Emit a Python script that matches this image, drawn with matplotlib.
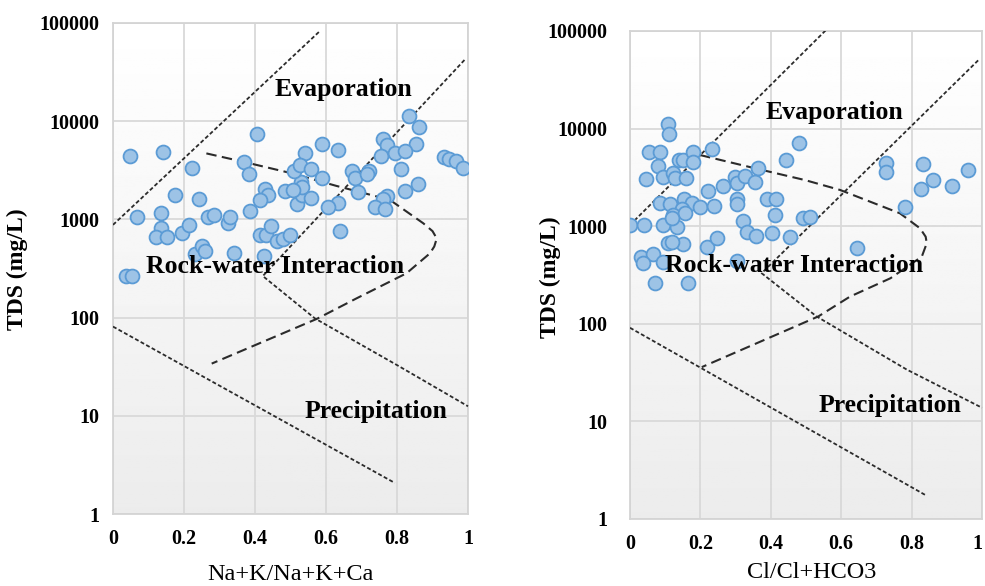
import matplotlib
matplotlib.use('Agg')
import matplotlib.pyplot as plt
import numpy as np

plt.rcParams['font.family'] = ['Liberation Serif', 'DejaVu Serif']

# ---- scatter data ----
# left panel: Na+K/(Na+K+Ca) vs TDS
cat_x = [0.049, 0.141, 0.223, 0.369, 0.383, 0.406, 0.175, 0.241, 0.068, 0.136,
         0.136, 0.122, 0.153, 0.195, 0.214, 0.268, 0.285, 0.324, 0.330, 0.385,
         0.230, 0.252, 0.258, 0.341, 0.424, 0.036, 0.054, 0.413, 0.432, 0.444,
         0.462, 0.427, 0.437, 0.413, 0.484, 0.480, 0.499, 0.517, 0.531, 0.529,
         0.511, 0.835, 0.861, 0.590, 0.635, 0.540, 0.761, 0.771, 0.854, 0.754,
         0.794, 0.823, 0.932, 0.947, 0.965, 0.987, 0.527, 0.557, 0.590, 0.672,
         0.682, 0.722, 0.715, 0.810, 0.532, 0.557, 0.860, 0.823, 0.689, 0.635,
         0.607, 0.771, 0.761, 0.739, 0.766, 0.639, 0.508]
cat_tds = [4420, 4820, 3340, 3810, 2900, 7350, 1760, 1610, 1066, 1170,
           811, 667, 667, 733, 877, 1050, 1110, 912, 1066, 1227,
           444, 536, 476, 458, 424, 267, 267, 693, 693, 862,
           607, 2028, 1775, 1577, 1933, 630, 693, 1435, 1775, 2420,
           3110, 11380, 8790, 5820, 5090, 4710, 6540, 5730, 5860, 4420,
           4790, 5010, 4290, 4090, 3940, 3310, 3580, 3240, 2660, 3110,
           2620, 3110, 2900, 3240, 2120, 1640, 2290, 1945, 1915, 1460,
           1346, 1730, 1600, 1346, 1268, 767, 1993]

# right panel: Cl/(Cl+HCO3) vs TDS
an_x = [0.109, 0.112, 0.055, 0.085, 0.080, 0.140, 0.151, 0.180, 0.232, 0.178,
        0.045, 0.095, 0.123, 0.128, 0.159, 0.085, 0.114, 0.154, 0.175, 0.199,
        0.149, 0.122, 0.156, 0.222, 0.265, 0.298, 0.303, 0.327, 0.355, 0.364,
        0.240, 0.303, 0.303, 0.388, 0.415, 0.412, 0.000, 0.040, 0.095, 0.133,
        0.118, 0.320, 0.331, 0.358, 0.403, 0.109, 0.151, 0.220, 0.246, 0.118,
        0.030, 0.066, 0.036, 0.093, 0.071, 0.164, 0.455, 0.481, 0.442, 0.305,
        0.727, 0.727, 0.833, 0.959, 0.860, 0.826, 0.916, 0.781, 0.492, 0.510,
        0.644]
an_tds = [11120, 8730, 5700, 5700, 4160, 4760, 4760, 5700, 6170, 4570,
          3020, 3170, 3530, 3090, 3090, 1715, 1690, 1880, 1740, 1560,
          1490, 1300, 1355, 2310, 2580, 3170, 2790, 3270, 2860, 3970,
          1610, 1880, 1690, 1880, 1880, 1300, 1030, 1030, 1030, 990,
          1205, 1138, 879, 794, 859, 668, 658, 617, 762, 690,
          488, 519, 417, 433, 261, 261, 770, 7160, 4760, 443,
          4400, 3610, 4330, 3760, 2970, 2390, 2600, 1560, 1205, 1250,
          594]

# ---- Gibbs boundary lines ----
cat_upper_x = [0.0, 0.58]
cat_upper_y = [880, 81000]
cat_v_x = [0.99, 0.422, 0.569, 0.799, 1.0]
cat_v_y = [42000, 265, 98, 33, 12.5]
cat_low_x = [0.0, 0.794]
cat_low_y = [81, 2.07]
cat_curve_x = [0.263, 0.366, 0.498, 0.630, 0.780, 0.874, 0.900, 0.912, 0.905,
               0.893, 0.827, 0.686, 0.574, 0.278]
cat_curve_y = [4700, 3870, 2980, 2190, 1580, 913, 760, 640, 530,
               452, 283, 157, 97, 34]

an_upper_x = [0.0, 0.56]
an_upper_y = [1030, 105000]
an_v_x = [0.989, 0.374, 0.530, 0.786, 1.0]
an_v_y = [50000, 330, 119, 34, 13.8]
an_low_x = [0.0, 0.838]
an_low_y = [91, 1.77]
an_curve_x = [0.199, 0.355, 0.497, 0.597, 0.767, 0.824, 0.840, 0.843, 0.829,
              0.740, 0.625, 0.535, 0.204]
an_curve_y = [5360, 3920, 2970, 2350, 1355, 951, 780, 668, 488,
              293, 190, 119, 36]

yticks = [1, 10, 100, 1000, 10000, 100000]
ytick_labels = ['1', '10', '100', '1000', '10000', '100000']
xticks = [0, 0.2, 0.4, 0.6, 0.8, 1]
xtick_labels = ['0', '0.2', '0.4', '0.6', '0.8', '1']

W, H = 985, 586
fig = plt.figure(figsize=(W / 100, H / 100), dpi=100)


def px_axes(l, r, t, b):
    return fig.add_axes([l / W, 1 - b / H, (r - l) / W, (b - t) / H])


def draw_panel(ax, px, py, up_x, up_y, v_x, v_y, low_x, low_y, cv_x, cv_y,
               texts, ypad, xpad):
    grad = np.linspace(1.0, 0.925, 256).reshape(-1, 1)
    ax.imshow(grad, extent=[0, 1, 0, 1], transform=ax.transAxes, aspect='auto',
              cmap='gray', vmin=0, vmax=1, zorder=0)
    ax.set_yscale('log')
    ax.set_xlim(0, 1)
    ax.set_ylim(1, 100000)
    ax.set_xticks(xticks)
    ax.set_xticklabels(xtick_labels)
    ax.set_yticks(yticks)
    ax.set_yticklabels(ytick_labels)
    ax.yaxis.set_minor_locator(matplotlib.ticker.NullLocator())
    ax.grid(True, color='#d9d9d9', lw=1.3, zorder=1)
    ax.set_axisbelow(True)
    for s in ax.spines.values():
        s.set_color('#d4d4d4')
        s.set_linewidth(1.3)
    ax.tick_params(length=0, labelsize=14.5)
    ax.tick_params(axis='y', pad=ypad)
    ax.tick_params(axis='x', pad=xpad)
    for lab in ax.get_xticklabels() + ax.get_yticklabels():
        lab.set_fontweight('bold')

    fine = dict(color='#2b2b2b', lw=1.3, dashes=(2.2, 1.3), zorder=3)
    ax.plot(up_x, up_y, **fine)
    ax.plot(v_x, v_y, clip_on=False, **fine)
    ax.plot(low_x, low_y, **fine)
    ax.plot(cv_x, cv_y, color='#2b2b2b', lw=1.5, dashes=(5, 2.6), zorder=3)

    ax.scatter(px, py, s=100, facecolor='#9dc3e6', edgecolor='#5b9bd5',
               linewidth=1.3, zorder=4)

    for t, x, y in texts:
        ax.text(x, y, t, ha='center', va='center', fontsize=18.5,
                fontweight='bold', zorder=5)


ax1 = px_axes(113, 468, 23, 514)
draw_panel(ax1, cat_x, cat_tds, cat_upper_x, cat_upper_y, cat_v_x, cat_v_y,
           cat_low_x, cat_low_y, cat_curve_x, cat_curve_y,
           [('Evaporation', 0.648, 21000),
            ('Rock-water Interaction', 0.456, 335),
            ('Precipitation', 0.741, 11)],
           ypad=10, xpad=11)

ax2 = px_axes(630, 982, 31, 519)
draw_panel(ax2, an_x, an_tds, an_upper_x, an_upper_y, an_v_x, an_v_y,
           an_low_x, an_low_y, an_curve_x, an_curve_y,
           [('Evaporation', 0.580, 14500),
            ('Rock-water Interaction', 0.467, 400),
            ('Precipitation', 0.739, 14.5)],
           ypad=16, xpad=11)
# the last tick label sits at the figure edge; keep it inside
ax2.get_xticklabels()[-1].set_horizontalalignment('right')

# axis titles
fig.text(290 / W, 1 - 574 / H, 'Na+K/Na+K+Ca', ha='center', va='center',
         fontsize=17.5)
fig.text(812 / W, 1 - 572 / H, 'Cl/Cl+HCO3', ha='center', va='center',
         fontsize=17.5)
fig.text(17 / W, 1 - 269 / H, 'TDS (mg/L)', ha='center', va='center',
         rotation=90, fontsize=17, fontweight='bold')
fig.text(550 / W, 1 - 277 / H, 'TDS (mg/L)', ha='center', va='center',
         rotation=90, fontsize=17, fontweight='bold')

fig.savefig('out.png', dpi=100)
